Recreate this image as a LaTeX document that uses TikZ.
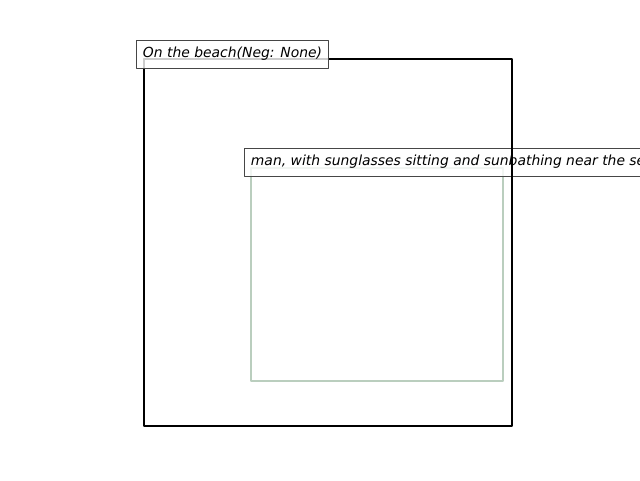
\documentclass[tikz,border=0pt]{standalone}
\usepackage{fontspec}
\setmainfont{DejaVu Sans}
\usetikzlibrary{positioning,calc}
\definecolor{boxgreen}{RGB}{186,206,190}
\definecolor{tagedge}{RGB}{70,70,70}
\tikzset{tag/.style={draw=tagedge, line width=0.9pt, fill=white, fill opacity=0.8, text opacity=1,
  inner xsep=6.5pt, inner ysep=7.5pt, text height=10pt, text depth=3pt, anchor=north west,
  font=\fontsize{13.9}{16}\selectfont\itshape}}

\begin{document}
\begin{tikzpicture}[x=1pt, y=-1pt, line join=round]
\useasboundingbox (0,0) rectangle (640,480);
\clip (0,0) rectangle (640,480);
\coordinate (BeachNW) at (144,59);
\coordinate (BeachSE) at (512,426);
\coordinate (ManNW)   at (251,168);
\coordinate (ManSE)   at (503,381);
\draw[boxgreen, line width=2.4pt] (ManNW) rectangle (ManSE);
\node[tag] (mantag) at (244,148) {man, with sunglasses sitting and sunbathing near the sea};
\draw[black, line width=1.4pt] (BeachNW) rectangle (BeachSE);
\node[tag] (beachtag) at (136,40) {On the beach(Neg: None)};
\end{tikzpicture}
\end{document}
